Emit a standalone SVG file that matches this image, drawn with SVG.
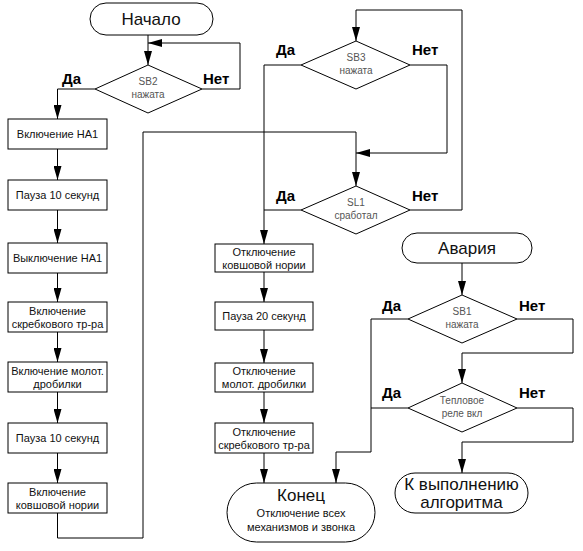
<svg xmlns="http://www.w3.org/2000/svg" width="583" height="551" viewBox="0 0 583 551">
<style>
.sh{fill:#fff;stroke:#000;stroke-width:1}
.ln{fill:none;stroke:#000;stroke-width:1}
.t{font-family:"Liberation Sans",Arial,sans-serif;text-anchor:middle;fill:#111}
.big{font-size:17px}
.box{font-size:11px}
.dt{font-size:10px;fill:#555}
.lb{font-family:"Liberation Sans",Arial,sans-serif;font-size:15px;font-weight:bold;fill:#000}
</style>
<defs>
<marker id="ar" viewBox="0 0 14 8" refX="14" refY="4" markerWidth="14" markerHeight="8" orient="auto" markerUnits="userSpaceOnUse">
<path d="M0,0 L14,4 L0,8 z" fill="#000"/>
</marker>
</defs>
<rect width="583" height="551" fill="#fff"/>
<g id="connectors" class="ln">
<path d="M148,35 V65" marker-end="url(#ar)"/>
<path d="M202,89 H240 V43 H148" marker-end="url(#ar)"/>
<path d="M95,89 H57.5 V119" marker-end="url(#ar)"/>
<path d="M57.5,149 V180" marker-end="url(#ar)"/>
<path d="M57.5,210 V243" marker-end="url(#ar)"/>
<path d="M57.5,273 V302" marker-end="url(#ar)"/>
<path d="M57.5,332 V362" marker-end="url(#ar)"/>
<path d="M57.5,392 V423" marker-end="url(#ar)"/>
<path d="M57.5,453 V483" marker-end="url(#ar)"/>
<path d="M57.5,513 V538 H143 V132 H356 V186" marker-end="url(#ar)"/>
<path d="M410,210 H462 V10 H356 V41" marker-end="url(#ar)"/>
<path d="M410,65 H447 V153 H356" marker-end="url(#ar)"/>
<path d="M301,65 H264 V244" marker-end="url(#ar)"/>
<path d="M301,210 H264"/>
<path d="M264,272 V302" marker-end="url(#ar)"/>
<path d="M264,330 V363" marker-end="url(#ar)"/>
<path d="M264,392 V423" marker-end="url(#ar)"/>
<path d="M264,453 V483" marker-end="url(#ar)"/>
<path d="M462,263 V295" marker-end="url(#ar)"/>
<path d="M408,319 H371 V452 H336 V483" marker-end="url(#ar)"/>
<path d="M408,408 H371"/>
<path d="M517,319 H573 V353 H462 V383" marker-end="url(#ar)"/>
<path d="M517,408 H573 V442 H462 V473" marker-end="url(#ar)"/>
</g>
<g id="start">
<rect class="sh" x="90" y="3" width="123" height="32" rx="16"/>
<text class="t big" x="151" y="25">Начало</text>
</g>
<g id="sb2">
<path class="sh" d="M148,65 L202,89 L148,113 L95,89 Z"/>
<text class="t dt" x="148" y="85">SB2</text>
<text class="t dt" x="148" y="98">нажата</text>
<text class="lb" x="62" y="84">Да</text>
<text class="lb" x="203" y="84">Нет</text>
</g>
<g id="l1"><rect class="sh" x="8" y="119" width="99" height="30"/><text class="t box" x="57.5" y="138">Включение НА1</text></g>
<g id="l2"><rect class="sh" x="8" y="180" width="99" height="30"/><text class="t box" x="57.5" y="199">Пауза 10 секунд</text></g>
<g id="l3"><rect class="sh" x="8" y="243" width="99" height="30"/><text class="t box" x="57.5" y="262">Выключение НА1</text></g>
<g id="l4"><rect class="sh" x="8" y="302" width="99" height="30"/><text class="t box" x="57.5" y="315">Включение</text><text class="t box" x="57.5" y="328">скребкового тр-ра</text></g>
<g id="l5"><rect class="sh" x="8" y="362" width="99" height="30"/><text class="t box" x="57.5" y="375">Включение молот.</text><text class="t box" x="57.5" y="388">дробилки</text></g>
<g id="l6"><rect class="sh" x="8" y="423" width="99" height="30"/><text class="t box" x="57.5" y="442">Пауза 10 секунд</text></g>
<g id="l7"><rect class="sh" x="8" y="483" width="99" height="30"/><text class="t box" x="57.5" y="496">Включение</text><text class="t box" x="57.5" y="509">ковшовой нории</text></g>
<g id="sb3">
<path class="sh" d="M356,41 L410,65 L356,89 L301,65 Z"/>
<text class="t dt" x="356" y="61">SB3</text>
<text class="t dt" x="356" y="74">нажата</text>
<text class="lb" x="276" y="55">Да</text>
<text class="lb" x="412" y="55">Нет</text>
</g>
<g id="sl1">
<path class="sh" d="M356,186 L410,210 L356,234 L301,210 Z"/>
<text class="t dt" x="356" y="206">SL1</text>
<text class="t dt" x="356" y="219">сработал</text>
<text class="lb" x="276" y="201">Да</text>
<text class="lb" x="412" y="201">Нет</text>
</g>
<g id="r1"><rect class="sh" x="215" y="244" width="98" height="28"/><text class="t box" x="264" y="256">Отключение</text><text class="t box" x="264" y="269">ковшовой нории</text></g>
<g id="r2"><rect class="sh" x="215" y="302" width="98" height="28"/><text class="t box" x="264" y="320">Пауза 20 секунд</text></g>
<g id="r3"><rect class="sh" x="215" y="363" width="98" height="29"/><text class="t box" x="264" y="375">Отключение</text><text class="t box" x="264" y="388">молот. дробилки</text></g>
<g id="r4"><rect class="sh" x="215" y="423" width="98" height="30"/><text class="t box" x="264" y="436">Отключение</text><text class="t box" x="264" y="449">скребкового тр-ра</text></g>
<g id="end">
<rect class="sh" x="227" y="483" width="148" height="59" rx="29.5"/>
<text class="t big" x="301" y="501">Конец</text>
<text class="t box" x="301" y="517">Отключение всех</text>
<text class="t box" x="301" y="531">механизмов и звонка</text>
</g>
<g id="alarm">
<rect class="sh" x="402" y="233" width="130" height="30" rx="15"/>
<text class="t big" x="467" y="254">Авария</text>
</g>
<g id="sb1">
<path class="sh" d="M462,295 L517,319 L462,343 L408,319 Z"/>
<text class="t dt" x="462" y="315">SB1</text>
<text class="t dt" x="462" y="328">нажата</text>
<text class="lb" x="382" y="311">Да</text>
<text class="lb" x="519" y="311">Нет</text>
</g>
<g id="thermal">
<path class="sh" d="M462,383 L517,408 L462,432 L408,408 Z"/>
<text class="t dt" x="462" y="404">Тепловое</text>
<text class="t dt" x="462" y="417">реле вкл</text>
<text class="lb" x="382" y="398">Да</text>
<text class="lb" x="519" y="398">Нет</text>
</g>
<g id="resume">
<rect class="sh" x="395" y="473" width="133" height="40" rx="20"/>
<text class="t big" x="461.5" y="490">К выполнению</text>
<text class="t big" x="461.5" y="508">алгоритма</text>
</g>
</svg>
